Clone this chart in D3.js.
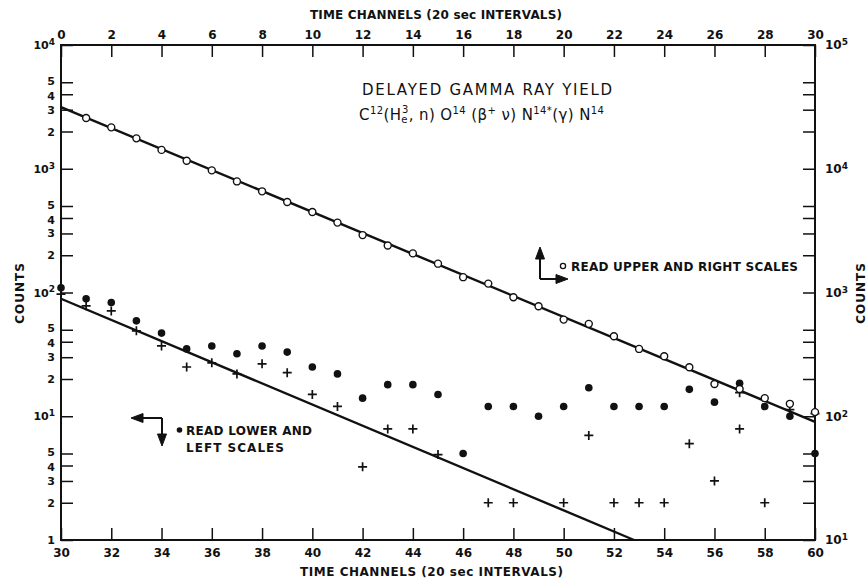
<!DOCTYPE html>
<html>
<head>
<meta charset="utf-8">
<script src="https://cdnjs.cloudflare.com/ajax/libs/d3/7.8.5/d3.min.js"></script>
<style>
  body { margin: 0; background: #fff; }
  svg text { font-family: "DejaVu Sans", sans-serif; fill: #111; }
</style>
</head>
<body>
<div id="chart"></div>
<script>
//lower / left scale series (filled dots and crosses)
let dotChannels = [30, 31, 32, 33, 34, 35, 36, 37, 38, 39, 40, 41, 42, 43, 44, 45, 46, 47, 48, 49, 50, 51, 52, 53, 54, 55, 56, 57, 58, 59, 60];
let dotCounts = [109, 89, 83, 59, 47, 35, 37, 32, 37, 33, 25, 22, 14, 18, 18, 15, 5, 12, 12, 10, 12, 17, 12, 12, 12, 16.5, 13, 18.5, 12, 10, 5];

let crossChannels = [30, 31, 32, 33, 34, 35, 36, 37, 38, 39, 40, 41, 42, 43, 44, 45, 47, 48, 50, 51, 52, 53, 54, 55, 56, 57, 57, 58, 59, 60];
let crossCounts = [97, 78, 71, 49, 37, 25, 27, 22, 26.5, 22.5, 15, 12, 3.9, 7.9, 7.9, 4.9, 2, 2, 2, 7, 2, 2, 2, 6, 3, 15.5, 7.9, 2, 11.3, 10.5];

//upper / right scale series (open circles)
let circleChannels = [1, 2, 3, 4, 5, 6, 7, 8, 9, 10, 11, 12, 13, 14, 15, 16, 17, 18, 19, 20, 21, 22, 23, 24, 25, 26, 27, 28, 29, 30];
let circleCounts = [25700, 21600, 17600, 14200, 11600, 9700, 7900, 6570, 5380, 4470, 3670, 2910, 2400, 2070, 1710, 1330, 1180, 916, 775, 604, 558, 443, 350, 305, 249, 182, 166, 140, 126, 108];

//fitted decay lines
let upperFitChannels = [0, 30];
let upperFitCounts = [31500, 90];
let lowerFitChannels = [30, 52.8];
let lowerFitCounts = [89, 1];

//tick values
let bottomTicks = [30, 32, 34, 36, 38, 40, 42, 44, 46, 48, 50, 52, 54, 56, 58, 60];
let topTicks = [0, 2, 4, 6, 8, 10, 12, 14, 16, 18, 20, 22, 24, 26, 28, 30];
let leftTicks = [1, 2, 3, 4, 5, 10, 20, 30, 40, 50, 100, 200, 300, 400, 500, 1000, 2000, 3000, 4000, 5000, 10000];
let rightTicks = [10, 20, 30, 40, 50, 100, 200, 300, 400, 500, 1000, 2000, 3000, 4000, 5000, 10000, 20000, 30000, 40000, 50000, 100000];

/********************************************/
//svg dimensions and plot frame
let svgWidth = 867;
let svgHeight = 580;
let frame = { left: 61, right: 815, top: 45, bottom: 540 };

let svg = d3
  .select("#chart")
  .append("svg")
  .attr("width", svgWidth)
  .attr("height", svgHeight)
  .style("background", "#fff");

//scales: lower/left and upper/right
let xLower = d3.scaleLinear().domain([30, 60]).range([frame.left, frame.right]);
let xUpper = d3.scaleLinear().domain([0, 30]).range([frame.left, frame.right]);
let yLeft = d3.scaleLog().domain([1, 10000]).range([frame.bottom, frame.top]);
let yRight = d3.scaleLog().domain([10, 100000]).range([frame.bottom, frame.top]);

let supDigits = { 1: "1", 2: "2", 3: "3", 4: "4", 5: "5" };

/********************************************/
//label helper: decades get a superscript exponent, 5 and 4 nudged apart
function powerLabel(sel) {
  sel.each(function (d) {
    let t = d3.select(this);
    let e = Math.round(Math.log10(d));
    if (d >= 10 && Math.abs(Math.log10(d) - e) < 1e-9) {
      t.text("10");
      t.append("tspan")
        .attr("dy", "-0.45em")
        .attr("font-size", "9px")
        .text(supDigits[e]);
    }
    let lead = String(d).charAt(0);
    if (lead === "5") t.attr("y", -1.5);
    if (lead === "4") t.attr("y", 1.5);
  });
}

function styleAxis(g) {
  g.select(".domain").remove();
  g.attr("font-family", "DejaVu Sans, sans-serif")
    .attr("font-size", 12)
    .attr("font-weight", "bold");
  g.selectAll(".tick line").attr("stroke", "#111").attr("stroke-width", 1.5);
  g.selectAll(".tick text").attr("fill", "#111");
}

//axes, all ticks pointing inward
let bottomAxis = d3.axisBottom(xLower).tickValues(bottomTicks).tickSize(-12).tickSizeOuter(0).tickPadding(8).tickFormat(d3.format("d"));
let topAxis = d3.axisTop(xUpper).tickValues(topTicks).tickSize(-12).tickSizeOuter(0).tickPadding(6).tickFormat(d3.format("d"));
let leftAxis = d3.axisLeft(yLeft).tickValues(leftTicks).tickSize(-12).tickSizeOuter(0).tickPadding(6)
  .tickFormat((d) => (d < 10 ? String(d) : String(d).charAt(0)));
let rightAxis = d3.axisRight(yRight).tickValues(rightTicks).tickSize(-12).tickSizeOuter(0).tickPadding(10)
  .tickFormat((d) => (String(d).charAt(0) === "1" ? "1" : ""));

svg.append("g").attr("transform", `translate(0, ${frame.bottom})`).call(bottomAxis).call(styleAxis);
svg.append("g").attr("transform", `translate(0, ${frame.top})`).call(topAxis).call(styleAxis);
let leftG = svg.append("g").attr("transform", `translate(${frame.left}, 0)`).call(leftAxis).call(styleAxis)
  .attr("font-size", 11);
leftG.selectAll(".tick text").call(powerLabel);
svg.append("g").attr("transform", `translate(${frame.right}, 0)`).call(rightAxis).call(styleAxis)
  .selectAll(".tick text").call(powerLabel);

//frame
svg.append("rect")
  .attr("x", frame.left)
  .attr("y", frame.top)
  .attr("width", frame.right - frame.left)
  .attr("height", frame.bottom - frame.top)
  .attr("fill", "none")
  .attr("stroke", "#111")
  .attr("stroke-width", 2);

/********************************************/
//axis titles
svg.append("text")
  .attr("x", 310).attr("y", 19)
  .attr("font-size", 12).attr("font-weight", "bold")
  .attr("textLength", 252).attr("lengthAdjust", "spacing")
  .text("TIME CHANNELS (20 sec INTERVALS)");

svg.append("text")
  .attr("x", 300).attr("y", 576)
  .attr("font-size", 12).attr("font-weight", "bold")
  .attr("textLength", 263).attr("lengthAdjust", "spacing")
  .text("TIME CHANNELS (20 sec INTERVALS)");

svg.append("text")
  .attr("transform", "translate(24, 293) rotate(-90)")
  .attr("text-anchor", "middle")
  .attr("font-size", 12).attr("font-weight", "bold")
  .attr("letter-spacing", 1)
  .text("COUNTS");

svg.append("text")
  .attr("transform", "translate(865, 293) rotate(-90)")
  .attr("text-anchor", "middle")
  .attr("font-size", 12).attr("font-weight", "bold")
  .attr("letter-spacing", 1)
  .text("COUNTS");

/********************************************/
//chart title and reaction
svg.append("text")
  .attr("x", 362).attr("y", 95)
  .attr("font-size", 15)
  .attr("textLength", 250).attr("lengthAdjust", "spacing")
  .text("DELAYED GAMMA RAY YIELD");

let reaction = [
  { t: "C", s: 0 },
  { t: "12", s: -6, small: true },
  { t: "(H", s: 0 },
  { t: "e", s: 3, small: true },
  { t: "3", s: -7, small: true, dx: -6 },
  { t: ", n) O", s: 0 },
  { t: "14", s: -6, small: true },
  { t: " (β", s: 0 },
  { t: "+", s: -6, small: true },
  { t: "  ν) N", s: 0 },
  { t: "14*", s: -6, small: true },
  { t: "(γ) N", s: 0 },
  { t: "14", s: -6, small: true },
];

let line2 = svg.append("text").attr("x", 359).attr("y", 120).attr("font-size", 15).attr("letter-spacing", 0.4);
let shift = 0;
reaction.forEach(function (p) {
  let ts = line2.append("tspan").attr("dy", p.s - shift).text(p.t);
  if (p.small) ts.attr("font-size", 10);
  if (p.dx) ts.attr("dx", p.dx);
  shift = p.s;
});

/********************************************/
//fit lines
let upperLine = d3.line()
  .x((d, i) => xUpper(upperFitChannels[i]))
  .y((d, i) => yRight(upperFitCounts[i]));
let lowerLine = d3.line()
  .x((d, i) => xLower(lowerFitChannels[i]))
  .y((d, i) => yLeft(lowerFitCounts[i]));

svg.append("path")
  .attr("d", upperLine(upperFitChannels))
  .attr("fill", "none").attr("stroke", "#111").attr("stroke-width", 2.4);
svg.append("path")
  .attr("d", lowerLine(lowerFitChannels))
  .attr("fill", "none").attr("stroke", "#111").attr("stroke-width", 2.4);

//crosses
svg.append("g")
  .selectAll("path")
  .data(crossChannels)
  .enter()
  .append("path")
  .attr("transform", (d, i) => `translate(${xLower(d)}, ${yLeft(crossCounts[i])})`)
  .attr("d", "M-4.5,0H4.5M0,-4.5V4.5")
  .attr("stroke", "#111")
  .attr("stroke-width", 1.7);

//filled dots
svg.append("g")
  .selectAll("circle")
  .data(dotChannels)
  .enter()
  .append("circle")
  .attr("cx", (d) => xLower(d))
  .attr("cy", (d, i) => yLeft(dotCounts[i]))
  .attr("r", 3.8)
  .attr("fill", "#111");

//open circles
svg.append("g")
  .selectAll("circle")
  .data(circleChannels)
  .enter()
  .append("circle")
  .attr("cx", (d) => xUpper(d))
  .attr("cy", (d, i) => yRight(circleCounts[i]))
  .attr("r", 3.5)
  .attr("fill", "#fff")
  .attr("stroke", "#111")
  .attr("stroke-width", 1.4);

/********************************************/
//scale notes with arrows
let notes = svg.append("g").attr("stroke", "#111").attr("stroke-width", 2).attr("fill", "none");
notes.append("path").attr("d", "M540,279V256M540,279H558");
notes.append("path").attr("d", "M540,247L535.5,259L544.5,259Z M568,279L556,274.5L556,283.5Z").attr("fill", "#111").attr("stroke-width", 1);
notes.append("path").attr("d", "M162,418H141M162,418V436");
notes.append("path").attr("d", "M131,418L143,413.5L143,422.5Z M162,446L157.5,434L166.5,434Z").attr("fill", "#111").attr("stroke-width", 1);

svg.append("circle").attr("cx", 563).attr("cy", 266).attr("r", 2.6)
  .attr("fill", "#fff").attr("stroke", "#111").attr("stroke-width", 1.3);
svg.append("text")
  .attr("x", 571).attr("y", 271)
  .attr("font-size", 12).attr("font-weight", "bold")
  .attr("textLength", 227).attr("lengthAdjust", "spacing")
  .text("READ UPPER AND RIGHT SCALES");

svg.append("circle").attr("cx", 179.5).attr("cy", 430).attr("r", 2.8).attr("fill", "#111");
svg.append("text")
  .attr("x", 186).attr("y", 435)
  .attr("font-size", 12).attr("font-weight", "bold")
  .attr("textLength", 126).attr("lengthAdjust", "spacing")
  .text("READ LOWER AND");
svg.append("text")
  .attr("x", 186).attr("y", 452)
  .attr("font-size", 12).attr("font-weight", "bold")
  .attr("textLength", 98).attr("lengthAdjust", "spacing")
  .text("LEFT SCALES");
</script>
</body>
</html>
